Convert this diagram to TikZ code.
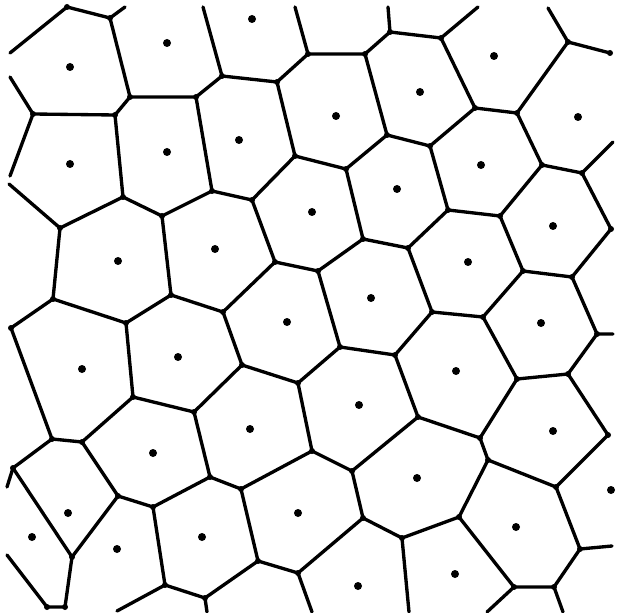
\documentclass[tikz,border=0pt]{standalone}
\usepackage{tikz}

\begin{document}
\begin{tikzpicture}[x=0.2mm, y=-0.2mm,
      edge/.style={line width=1.9pt, line join=round, line cap=round},
      site/.style={circle, fill, draw=none, inner sep=0pt, minimum size=1.6mm},
      joint/.style={circle, fill, draw=none, inner sep=0pt, minimum size=1.2mm}]
    \useasboundingbox (0,0) rectangle (617,613);

    % Voronoi vertices
    \coordinate (A1) at (67,7);    \coordinate (A2) at (110,18);
    \coordinate (A3) at (130,97);  \coordinate (A4) at (115,115);
    \coordinate (A5) at (33,114);  \coordinate (A6) at (196,97);
    \coordinate (A7) at (212,191); \coordinate (A8) at (123,197);
    \coordinate (A9) at (162,216);
    \coordinate (B1) at (222,76);  \coordinate (B2) at (277,82);
    \coordinate (B3) at (308,54);  \coordinate (B4) at (365,54);
    \coordinate (B5) at (390,32);  \coordinate (B6) at (387,135);
    \coordinate (B7) at (295,156); \coordinate (B8) at (346,169);
    \coordinate (B10) at (252,200);
    \coordinate (C1) at (441,38);  \coordinate (C2) at (568,42);
    \coordinate (C3) at (610,53);  \coordinate (C4) at (475,108);
    \coordinate (C5) at (517,113); \coordinate (C6) at (430,146);
    \coordinate (C7) at (542,165); \coordinate (C8) at (582,173);
    \coordinate (C9) at (448,210); \coordinate (C10) at (500,216);
    \coordinate (D1) at (60,228);  \coordinate (D3) at (171,295);
    \coordinate (D4) at (53,299);  \coordinate (D5) at (126,323);
    \coordinate (D6) at (11,328);  \coordinate (D7) at (133,397);
    \coordinate (D8) at (194,412);
    \coordinate (E2) at (275,262); \coordinate (E3) at (318,271);
    \coordinate (E4) at (363,239); \coordinate (E5) at (408,248);
    \coordinate (E6) at (223,312); \coordinate (E7) at (340,347);
    \coordinate (E8) at (395,355); \coordinate (E9) at (242,365);
    \coordinate (E10) at (298,383);
    \coordinate (F3) at (611,229); \coordinate (F5) at (523,271);
    \coordinate (F6) at (572,277); \coordinate (F7) at (432,312);
    \coordinate (F8) at (483,317); \coordinate (F9) at (597,334);
    \coordinate (F10) at (517,379); \coordinate (F11) at (568,374);
    \coordinate (F12) at (418,417);
    \coordinate (G1) at (52,439);  \coordinate (G2) at (82,442);
    \coordinate (G3) at (13,468);  \coordinate (G4) at (118,496);
    \coordinate (G5) at (153,507); \coordinate (G6) at (72,557);
    \coordinate (G8) at (210,477); \coordinate (G9) at (165,585);
    \coordinate (G10) at (205,598); \coordinate (G11) at (47,607);
    \coordinate (G12) at (65,607);
    \coordinate (H1) at (312,451); \coordinate (H2) at (352,471);
    \coordinate (H4) at (241,489); \coordinate (H5) at (363,518);
    \coordinate (H6) at (402,538); \coordinate (H7) at (258,561);
    \coordinate (H8) at (298,573);
    \coordinate (I2) at (480,438); \coordinate (I3) at (488,460);
    \coordinate (I4) at (608,435); \coordinate (I5) at (556,487);
    \coordinate (I6) at (459,517); \coordinate (I8) at (580,549);
    \coordinate (I9) at (514,587); \coordinate (I10) at (554,587);

    % free ends at the border
    \coordinate (l1) at (10,53);   \coordinate (l2) at (10,77);
    \coordinate (l3) at (10,176);  \coordinate (l4) at (9,184);
    \coordinate (l5) at (7,487);   \coordinate (l6) at (7,555);
    \coordinate (t1) at (125,7);   \coordinate (t2) at (203,7);
    \coordinate (t3) at (295,7);   \coordinate (t4) at (388,7);
    \coordinate (t5) at (478,7);   \coordinate (t6) at (548,8);
    \coordinate (r1) at (613,142); \coordinate (r2) at (613,334);
    \coordinate (r3) at (612,546);
    \coordinate (b1) at (117,611); \coordinate (b2) at (207,612);
    \coordinate (b3) at (312,612); \coordinate (b4) at (409,612);
    \coordinate (b5) at (487,612); \coordinate (b6) at (563,612);

    % cell walls
    \draw[edge] (l1) -- (A1) -- (A2) -- (A3) -- (A4) -- (A5) -- (l2);
    \draw[edge] (A5) -- (l3);
    \draw[edge] (t1) -- (A2);
    \draw[edge] (A3) -- (A6) -- (B1) -- (t2);
    \draw[edge] (A6) -- (A7) -- (A9) -- (A8) -- (A4);
    \draw[edge] (A8) -- (D1) -- (l4);
    \draw[edge] (D1) -- (D4) -- (D5) -- (D3) -- (A9);
    \draw[edge] (A7) -- (B10) -- (B7) -- (B2) -- (B1);
    \draw[edge] (B2) -- (B3) -- (t3);
    \draw[edge] (B3) -- (B4) -- (B5) -- (t4);
    \draw[edge] (B5) -- (C1) -- (t5);
    \draw[edge] (B4) -- (B6) -- (B8) -- (B7);
    \draw[edge] (B6) -- (C6) -- (C4) -- (C1);
    \draw[edge] (C4) -- (C5) -- (C2) -- (t6);
    \draw[edge] (C2) -- (C3);
    \draw[edge] (C5) -- (C7) -- (C8) -- (r1);
    \draw[edge] (C8) -- (F3) -- (F6) -- (F5) -- (C10) -- (C7);
    \draw[edge] (C10) -- (C9) -- (C6);
    \draw[edge] (C9) -- (E5) -- (E4) -- (B8);
    \draw[edge] (E4) -- (E3) -- (E2) -- (B10);
    \draw[edge] (E2) -- (E6) -- (D3);
    \draw[edge] (E3) -- (E7) -- (E8) -- (F7) -- (E5);
    \draw[edge] (F7) -- (F8) -- (F5);
    \draw[edge] (F6) -- (F9) -- (r2);
    \draw[edge] (F9) -- (F11) -- (F10) -- (F8);
    \draw[edge] (F11) -- (I4) -- (I5) -- (I3) -- (I2) -- (F10);
    \draw[edge] (I2) -- (F12) -- (E8);
    \draw[edge] (F12) -- (H2) -- (H1) -- (E10) -- (E7);
    \draw[edge] (E10) -- (E9) -- (E6);
    \draw[edge] (E9) -- (D8) -- (D7) -- (D5);
    \draw[edge] (D4) -- (D6) -- (G1) -- (G2) -- (D7);
    \draw[edge] (G1) -- (G3) -- (l5);
    \draw[edge] (G3) -- (G6) -- (G4) -- (G2);
    \draw[edge] (G4) -- (G5) -- (G8) -- (D8);
    \draw[edge] (G8) -- (H4) -- (H1);
    \draw[edge] (H4) -- (H7) -- (H8) -- (H5) -- (H2);
    \draw[edge] (H5) -- (H6) -- (I6) -- (I3);
    \draw[edge] (H6) -- (b4);
    \draw[edge] (H8) -- (b3);
    \draw[edge] (H7) -- (G10) -- (G9) -- (G5);
    \draw[edge] (G9) -- (b1);
    \draw[edge] (G10) -- (b2);
    \draw[edge] (G6) -- (G12) -- (G11) -- (l6);
    \draw[edge] (I5) -- (I8) -- (r3);
    \draw[edge] (I8) -- (I10) -- (I9) -- (I6);
    \draw[edge] (I9) -- (b5);
    \draw[edge] (I10) -- (b6);

    % thickened corners
    \foreach \v in {A1,A2,A3,A4,A5,A6,A7,A8,A9,B1,B2,B3,B4,B5,B6,B7,B8,B10,
                    C1,C2,C3,C4,C5,C6,C7,C8,C9,C10,D1,D3,D4,D5,D6,D7,D8,
                    E2,E3,E4,E5,E6,E7,E8,E9,E10,F3,F5,F6,F7,F8,F9,F10,F11,F12,
                    G1,G2,G3,G4,G5,G6,G8,G9,G10,G11,G12,
                    H1,H2,H4,H5,H6,H7,H8,I2,I3,I4,I5,I6,I8,I9,I10}
      \node[joint] at (\v) {};

    % generating points
    \node[site] (s1) at (70,67) {};    \node[site] (s2) at (167,43) {};
    \node[site] (s3) at (252,19) {};   \node[site] (s4) at (70,164) {};
    \node[site] (s5) at (167,152) {};  \node[site] (s6) at (239,140) {};
    \node[site] (s7) at (336,116) {};  \node[site] (s8) at (420,92) {};
    \node[site] (s9) at (494,56) {};   \node[site] (s10) at (578,117) {};
    \node[site] (s11) at (397,189) {}; \node[site] (s12) at (481,165) {};
    \node[site] (s13) at (312,212) {}; \node[site] (s14) at (118,261) {};
    \node[site] (s15) at (215,249) {}; \node[site] (s16) at (371,298) {};
    \node[site] (s17) at (468,262) {}; \node[site] (s18) at (553,226) {};
    \node[site] (s19) at (82,369) {};  \node[site] (s20) at (178,357) {};
    \node[site] (s21) at (287,322) {}; \node[site] (s22) at (541,323) {};
    \node[site] (s23) at (456,371) {}; \node[site] (s24) at (359,405) {};
    \node[site] (s25) at (153,453) {}; \node[site] (s26) at (250,429) {};
    \node[site] (s27) at (68,513) {};  \node[site] (s28) at (32,537) {};
    \node[site] (s29) at (117,549) {}; \node[site] (s30) at (202,537) {};
    \node[site] (s31) at (298,513) {}; \node[site] (s32) at (417,478) {};
    \node[site] (s33) at (553,431) {}; \node[site] (s34) at (611,490) {};
    \node[site] (s35) at (516,527) {}; \node[site] (s36) at (455,574) {};
    \node[site] (s37) at (358,586) {};
\end{tikzpicture}
\end{document}
